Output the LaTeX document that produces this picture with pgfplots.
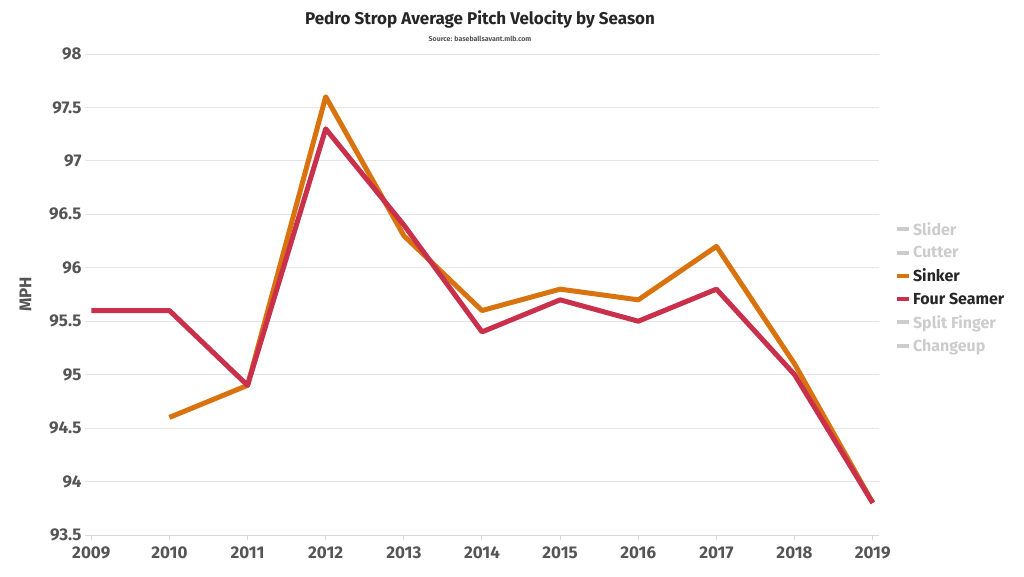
\documentclass[border=0pt]{standalone}
\usepackage{pgfplots}
\pgfplotsset{compat=1.18}
\usepackage{fontspec}
\setmainfont{Fira Sans}
\definecolor{sinker}{HTML}{D9730F}
\definecolor{fourseam}{HTML}{C8304B}
\definecolor{lgray}{HTML}{CCCCCC}
\definecolor{txt}{HTML}{555555}
\begin{document}
\begin{tikzpicture}[x=1pt,y=1pt]
\useasboundingbox (0,0) rectangle (1024,576);
\node[font=\bfseries\fontsize{17}{20}\selectfont, text=black!85] at (480,557) {Pedro Strop Average Pitch Velocity by Season};
\node[font=\bfseries\fontsize{7}{8}\selectfont, text=txt] at (480,537) {Source: baseballsavant.mlb.com};
\begin{axis}[
  at={(85pt,41pt)}, anchor=south west,
  scale only axis, width=794pt, height=481pt,
  xmin=2008.92, xmax=2019.08, ymin=93.5, ymax=98,
  xtick={2009,...,2019}, ytick={93.5,94,...,98},
  xticklabel style={/pgf/number format/1000 sep={}, yshift=-3pt},
  yticklabel style={/pgf/number format/fixed, /pgf/number format/precision=1},
  /pgf/number format/assume math mode=true,
  tick label style={font=\bfseries\fontsize{17}{20}\selectfont, text=txt},
  ymajorgrids, grid style={draw=black!10, line width=0.8pt},
  axis line style={draw=none},
  axis x line*=bottom, axis y line*=left,
  x axis line style={draw=black!15, line width=1pt},
  major tick length=5pt,
  xtick style={draw=black!15, line width=1pt},
  ytick style={draw=none},
  xtick align=outside,
  ylabel={MPH}, ylabel style={font=\bfseries\fontsize{17}{20}\selectfont, text=txt, at={(-50pt,0.5)}, anchor=south},
  clip=false,
  legend style={at={(1.02,0.655)}, anchor=north west, draw=none, fill=none,
    font=\bfseries\fontsize{16}{18}\selectfont, row sep=5.6pt, inner sep=0pt,
    /tikz/every even column/.append style={column sep=2pt}},
  legend cell align=left,
  legend image code/.code={\draw[#1, line width=4pt] (0pt,0pt) -- (12pt,0pt);},
]
\addlegendimage{lgray}
\addlegendentry{\textcolor{lgray}{Slider}}
\addlegendimage{lgray}
\addlegendentry{\textcolor{lgray}{Cutter}}
\addplot[sinker, line width=5pt, line join=round] coordinates {
(2010,94.6) (2011,94.9) (2012,97.6) (2013,96.3) (2014,95.6) (2015,95.8) (2016,95.7) (2017,96.2) (2018,95.1) (2019,93.8)};
\addlegendentry{\textcolor{black!85}{Sinker}}
\addplot[fourseam, line width=5pt, line join=round] coordinates {
(2009,95.6) (2010,95.6) (2011,94.9) (2012,97.3) (2013,96.4) (2014,95.4) (2015,95.7) (2016,95.5) (2017,95.8) (2018,95.0) (2019,93.8)};
\addlegendentry{\textcolor{black!85}{Four Seamer}}
\addlegendimage{lgray}
\addlegendentry{\textcolor{lgray}{Split Finger}}
\addlegendimage{lgray}
\addlegendentry{\textcolor{lgray}{Changeup}}
\end{axis}
\end{tikzpicture}
\end{document}
